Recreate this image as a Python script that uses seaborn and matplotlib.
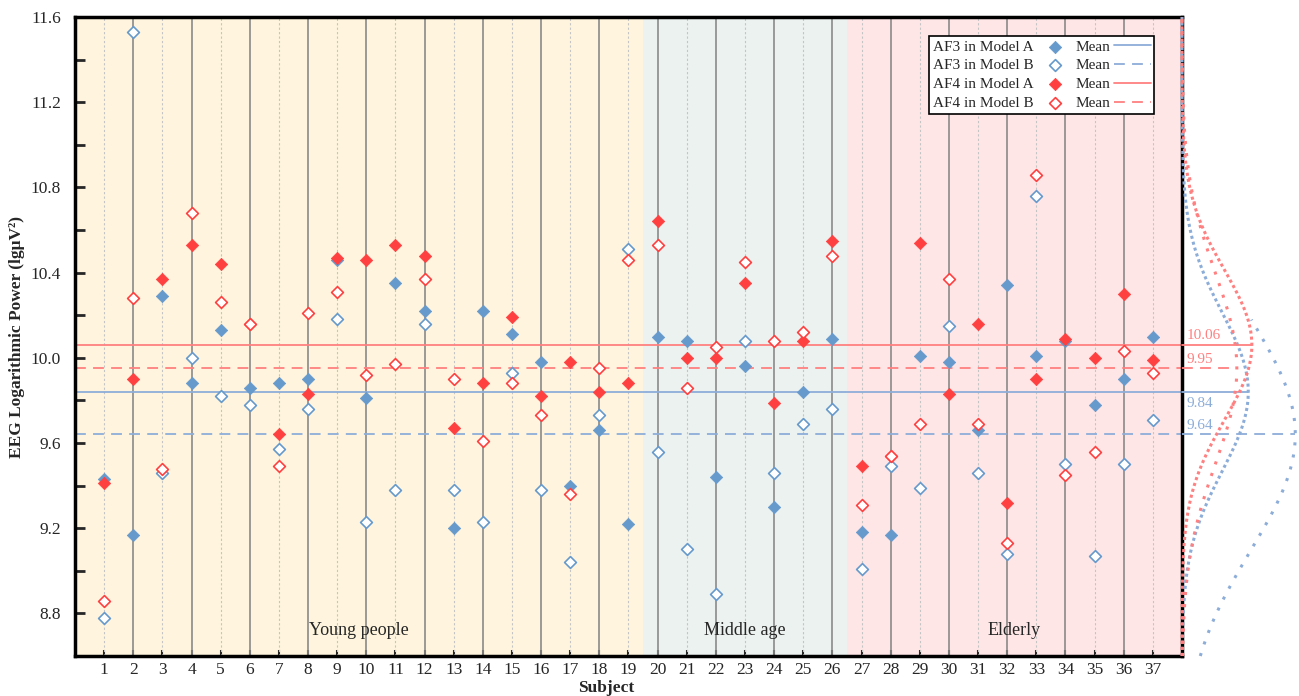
import numpy as np
import pandas as pd
import seaborn as sns
import matplotlib.pyplot as plt
from matplotlib.ticker import MultipleLocator

# Données (37 sujets, 4 séries)
subjects = list(range(1, 38))
af3_a = [9.43, 9.17, 10.29, 9.88, 10.13, 9.86, 9.88, 9.90, 10.46, 9.81, 10.35, 10.22, 9.20,
         10.22, 10.11, 9.98, 9.40, 9.66, 9.22, 10.10, 10.08, 9.44, 9.96, 9.30, 9.84, 10.09,
         9.18, 9.17, 10.01, 9.98, 9.66, 10.34, 10.01, 10.08, 9.78, 9.90, 10.10]
af3_b = [8.78, 11.53, 9.46, 10.00, 9.82, 9.78, 9.57, 9.76, 10.18, 9.23, 9.38, 10.16, 9.38,
         9.23, 9.93, 9.38, 9.04, 9.73, 10.51, 9.56, 9.10, 8.89, 10.08, 9.46, 9.69, 9.76,
         9.01, 9.49, 9.39, 10.15, 9.46, 9.08, 10.76, 9.50, 9.07, 9.50, 9.71]
af4_a = [9.41, 9.90, 10.37, 10.53, 10.44, 10.16, 9.64, 9.83, 10.47, 10.46, 10.53, 10.48, 9.67,
         9.88, 10.19, 9.82, 9.98, 9.84, 9.88, 10.64, 10.00, 10.00, 10.35, 9.79, 10.08, 10.55,
         9.49, 9.54, 10.54, 9.83, 10.16, 9.32, 9.90, 10.09, 10.00, 10.30, 9.99]
af4_b = [8.86, 10.28, 9.48, 10.68, 10.26, 10.16, 9.49, 10.21, 10.31, 9.92, 9.97, 10.37, 9.90,
         9.61, 9.88, 9.73, 9.36, 9.95, 10.46, 10.53, 9.86, 10.05, 10.45, 10.08, 10.12, 10.48,
         9.31, 9.54, 9.69, 10.37, 9.69, 9.13, 10.86, 9.45, 9.56, 10.03, 9.93]

series_names = ["AF3 in Model A", "AF3 in Model B", "AF4 in Model A", "AF4 in Model B"]
means = [9.84, 9.64, 10.06, 9.95]
hist_bins = [0.2, 0.5, 0.2, 0.2]   # largeur de classe des courbes de distribution

groups = ["Young people", "Middle age", "Elderly"]
group_edges = [0, 19.5, 26.5, 38]

# Style
blue, red = "#6699CC", "#FF4040"
blue_line, red_line = "#8DADD9", "#FF8080"
bg_colors = ["#FFF5DE", "#ECF2F0", "#FFE6E6"]

sns.set_style("ticks")
plt.rcParams["font.family"] = ["Liberation Serif", "DejaVu Serif"]

df = pd.DataFrame({"Subject": subjects, series_names[0]: af3_a, series_names[1]: af3_b,
                   series_names[2]: af4_a, series_names[3]: af4_b})

fig = plt.figure(figsize=(12.99, 6.96), dpi=100)
ax = fig.add_axes([75 / 1299, 40 / 696, 1107 / 1299, 639 / 696])
ax2 = fig.add_axes([1182 / 1299, 40 / 696, 117 / 1299, 639 / 696], sharey=ax)

# Fonds par groupe d'âge
for i, g in enumerate(groups):
    ax.axvspan(group_edges[i], group_edges[i + 1], color=bg_colors[i], lw=0, zorder=0)
    ax.text((group_edges[i] + group_edges[i + 1]) / 2, 8.72, g, ha="center", va="center",
            fontsize=13, zorder=3)

# Lignes verticales par sujet
for s in subjects:
    if s % 2 == 0:
        ax.axvline(s, color="#8a8a8a", lw=1.2, zorder=1)
    else:
        ax.axvline(s, color="#c4c4c4", lw=0.8, ls=(0, (2, 2)), zorder=1)

styles = [(blue, True, "-", (0, (1, 1))), (blue, False, (0, (6, 4)), (0, (1, 3))),
          (red, True, "-", (0, (1, 1))), (red, False, (0, (6, 4)), (0, (1, 3)))]
line_cols = [blue_line, blue_line, red_line, red_line]

scat_handles, line_handles = [], []
ys = np.linspace(8.6, 11.6, 400)
for k, name in enumerate(series_names):
    col, filled, mls, dls = styles[k]
    n_before = len(ax.collections)
    if filled:
        sns.scatterplot(data=df, x="Subject", y=name, ax=ax, marker="D", s=40,
                        color=col, edgecolor=col, linewidth=0.5, zorder=4)
    else:
        sns.scatterplot(data=df, x="Subject", y=name, ax=ax, marker="D", s=36,
                        facecolor="white", edgecolor=col, linewidth=1.2, zorder=4)
    scat_handles.append(ax.collections[n_before])
    ln = ax.axhline(means[k], color=line_cols[k], lw=1.3, ls=mls, zorder=2)
    line_handles.append(ln)

    # courbe de distribution normale à droite
    vals = df[name].to_numpy()
    sd = vals.std(ddof=1)
    dens = len(vals) * hist_bins[k] * np.exp(-0.5 * ((ys - means[k]) / sd) ** 2) / (sd * np.sqrt(2 * np.pi))
    mask = ys <= means[k] + sd if not filled and col == blue else np.ones_like(ys, bool)
    ax2.plot(dens[mask], ys[mask], color=line_cols[k], lw=2.2, ls=dls, clip_on=False)
    peak = len(vals) * hist_bins[k] / (sd * np.sqrt(2 * np.pi))
    ax2.plot([0, peak], [means[k], means[k]], color=line_cols[k], lw=1.3, ls=mls, clip_on=False)

# Etiquettes des moyennes
label_off = [-0.025, 0.012, 0.012, 0.012]
for k in range(4):
    ax2.text(0.5, means[k] + label_off[k], f"{means[k]:.2f}", color=line_cols[k], fontsize=11,
             ha="left", va="top" if label_off[k] < 0 else "bottom")

ax2.set_xlim(0, 14)
ax2.axis("off")

ax.set_xlim(0, 38)
ax.set_ylim(8.6, 11.6)
ax.set_xticks(subjects)
ax.yaxis.set_major_locator(MultipleLocator(0.4))
ax.yaxis.set_minor_locator(MultipleLocator(0.2))
ax.set_yticks([8.8, 9.2, 9.6, 10.0, 10.4, 10.8, 11.2, 11.6])
ax.tick_params(axis="y", which="both", direction="in", length=7, width=2, labelsize=12.5, pad=10)
ax.tick_params(axis="x", direction="in", length=4, width=1.5, labelsize=12.5, pad=4)
for sp in ax.spines.values():
    sp.set_linewidth(2.5)
    sp.set_color("black")

ax.set_xlabel("Subject", fontsize=12.5, fontweight="bold")
ax.xaxis.set_label_coords(0.48, -0.037)
ax.set_ylabel("EEG Logarithmic Power (lgμV²)", fontsize=12.5, fontweight="bold", labelpad=4)

leg = ax.legend(handles=scat_handles + line_handles, labels=series_names + ["Mean"] * 4,
                ncol=2, markerfirst=False, loc="upper right", bbox_to_anchor=(0.975, 0.97),
                borderaxespad=0, fontsize=11, frameon=True, fancybox=False, framealpha=1,
                edgecolor="black", handlelength=2.4, columnspacing=0.2, handletextpad=0.2,
                labelspacing=0.33, borderpad=0.25)
leg.get_frame().set_linewidth(1.2)
leg.set_zorder(10)

plt.savefig("out.png", dpi=100)
